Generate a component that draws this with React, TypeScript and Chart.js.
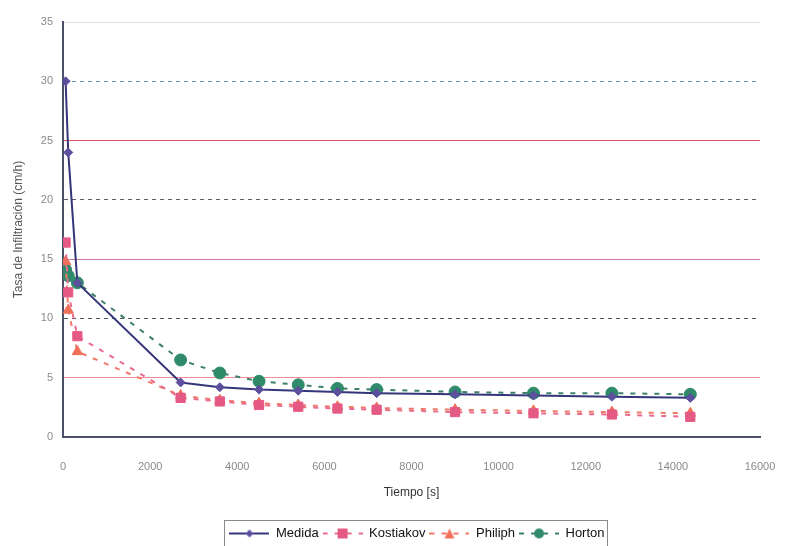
import React, { useEffect, useRef } from "react";
import { Chart, registerables } from "chart.js";
Chart.register(...registerables);

const times = [60, 120, 330, 2700, 3600, 4500, 5400, 6300, 7200, 9000, 10800, 12600, 14400];
const medida = [30, 24, 13.0, 4.6, 4.2, 4.0, 3.9, 3.8, 3.7, 3.6, 3.5, 3.4, 3.3];
const kostiakov = [16.4, 12.2, 8.5, 3.3, 3.0, 2.7, 2.55, 2.4, 2.3, 2.1, 2.0, 1.9, 1.7];
const philiph = [14.8, 10.7, 7.2, 3.5, 3.1, 2.85, 2.7, 2.55, 2.45, 2.3, 2.2, 2.1, 2.0];
const horton = [14.1, 13.6, 13.0, 6.5, 5.4, 4.7, 4.4, 4.1, 4.0, 3.8, 3.7, 3.7, 3.6];
const seriesNames = ["Medida", "Kostiakov", "Philiph", "Horton"];
const xTickStep = 2000;
const xMax = 16000;
const yTickStep = 5;
const yMax = 35;
const xTitle = "Tiempo [s]";
const yTitle = "Tasa de Infiltración (cm/h)";

const gridColors: Record<number, string> = {
  0: "#4a4f6a",
  5: "#ec8c98",
  10: "#4f5460",
  15: "#c77aa6",
  20: "#5a5e68",
  25: "#e0505f",
  30: "#6f88c8",
  35: "#dddddd",
};
const gridDashed: Record<number, boolean> = { 10: true, 20: true, 30: true };

function makeIcon(lineColor: string, markerColor: string, dashed: boolean, marker: string) {
  const c = document.createElement("canvas");
  c.width = 40;
  c.height = 12;
  const ctx = c.getContext("2d")!;
  ctx.strokeStyle = lineColor;
  ctx.lineWidth = 2;
  if (dashed) ctx.setLineDash([5, 7]);
  ctx.beginPath();
  ctx.moveTo(0, 6);
  ctx.lineTo(40, 6);
  ctx.stroke();
  ctx.setLineDash([]);
  ctx.fillStyle = markerColor;
  ctx.beginPath();
  if (marker === "rectRot") {
    ctx.moveTo(20, 2); ctx.lineTo(24, 6); ctx.lineTo(20, 10); ctx.lineTo(16, 6); ctx.closePath();
  } else if (marker === "rect") {
    ctx.rect(15, 1, 10, 10);
  } else if (marker === "triangle") {
    ctx.moveTo(20, 1); ctx.lineTo(25, 11); ctx.lineTo(15, 11); ctx.closePath();
  } else {
    ctx.arc(20, 6, 5, 0, Math.PI * 2);
  }
  ctx.fill();
  return c;
}

export default function App() {
  const ref = useRef<HTMLCanvasElement>(null);
  useEffect(() => {
    document.body.style.margin = "0";
    const mk = (arr: number[]) => times.map((t, i) => ({ x: t, y: arr[i] }));
    const styles = [
      { line: "#35367a", marker: "#5b4f9e", dash: [] as number[], ps: "rectRot", r: 4.5, w: 2 },
      { line: "#e86a8c", marker: "#e45a84", dash: [5, 7], ps: "rect", r: 6.5, w: 2 },
      { line: "#f07a6a", marker: "#f0705a", dash: [5, 7], ps: "triangle", r: 6, w: 2 },
      { line: "#3d7f6a", marker: "#2f8a6a", dash: [5, 7], ps: "circle", r: 6, w: 2 },
    ];
    const values = [medida, kostiakov, philiph, horton];
    const icons = styles.map((s) => makeIcon(s.line, s.marker, s.dash.length > 0, s.ps));
    const legendShift = 37;
    const legendPad = 4;
    const legendBox = {
      id: "legendBox",
      afterLayout(chart: any) {
        const lg = chart.legend;
        if (!lg) return;
        lg.left += legendShift;
        lg.right += legendShift;
      },
      afterDraw(chart: any) {
        const lg = chart.legend;
        if (!lg || !lg.lineWidths || !lg.lineWidths.length) return;
        const rowW = lg.lineWidths[0];
        const x0 = (lg.left + legendPad + lg.right - rowW) / 2;
        const y0 = lg.top + legendPad;
        const ctx = chart.ctx;
        ctx.save();
        ctx.strokeStyle = "#8a8a8a";
        ctx.lineWidth = 1;
        ctx.strokeRect(Math.round(x0 - 5) + 0.5, Math.round(y0 - 7) + 0.5, Math.round(rowW + 4), 40);
        ctx.restore();
      },
    };
    const chart = new Chart(ref.current!, {
      type: "line",
      data: {
        datasets: values.map((v, i) => ({
          label: seriesNames[i],
          data: mk(v),
          borderColor: styles[i].line,
          backgroundColor: styles[i].marker,
          borderWidth: styles[i].w,
          borderDash: styles[i].dash,
          pointStyle: styles[i].ps as any,
          pointRadius: styles[i].r,
          pointBackgroundColor: styles[i].marker,
          pointBorderColor: styles[i].marker,
          pointBorderWidth: 1,
          tension: 0,
          fill: false,
        })),
      },
      options: {
        responsive: false,
        animation: false,
        layout: { padding: { left: 0, right: 28, top: 22, bottom: -4 } },
        plugins: {
          tooltip: { enabled: false },
          legend: {
            position: "bottom",
            labels: {
              usePointStyle: true,
              pointStyleWidth: 40,
              boxHeight: 13,
              padding: legendPad,
              color: "#111",
              font: { family: "Liberation Sans", size: 13 },
              generateLabels: (ch: any) =>
                ch.data.datasets.map((d: any, i: number) => ({
                  text: d.label,
                  pointStyle: icons[i],
                  fillStyle: styles[i].marker,
                  strokeStyle: styles[i].line,
                  lineWidth: 0,
                  hidden: false,
                  datasetIndex: i,
                  fontColor: "#111",
                })),
            },
          },
        },
        scales: {
          x: {
            type: "linear",
            min: 0,
            max: xMax,
            afterFit: (s: any) => {
              s.height = 86;
              s.paddingLeft = 0;
              s.paddingRight = 0;
            },
            ticks: {
              stepSize: xTickStep,
              padding: 23,
              color: "#8a8a8a",
              font: { family: "Liberation Sans", size: 11 },
              maxRotation: 0,
              callback: (v: any) => String(v),
            },
            grid: { display: false, drawTicks: false },
            border: { display: true, color: "#4a4f6a", width: 2 },
            title: {
              display: true,
              text: xTitle,
              color: "#333",
              font: { family: "Liberation Sans", size: 12 },
              padding: { top: 4, bottom: 23 },
            },
          },
          y: {
            type: "linear",
            min: 0,
            max: yMax,
            afterFit: (s: any) => {
              s.width = 63;
            },
            ticks: {
              stepSize: yTickStep,
              padding: 10,
              color: "#8a8a8a",
              font: { family: "Liberation Sans", size: 11 },
            },
            grid: {
              drawTicks: false,
              color: (ctx: any) => gridColors[ctx.tick ? ctx.tick.value : 0] || "#ccc",
              lineWidth: 1,
            },
            border: {
              display: true,
              color: "#4a4f6a",
              width: 2,
              dash: (ctx: any) => (ctx.tick && gridDashed[ctx.tick.value] ? [4, 4] : []),
            } as any,
            title: {
              display: true,
              text: yTitle,
              color: "#555",
              font: { family: "Liberation Sans", size: 12 },
              padding: { top: 11, bottom: 4 },
            },
          },
        },
      },
      plugins: [legendBox],
    });
    return () => chart.destroy();
  }, []);
  return (
    <div style={{ width: 788, height: 546 }}>
      <canvas ref={ref} width={788} height={546} />
    </div>
  );
}
